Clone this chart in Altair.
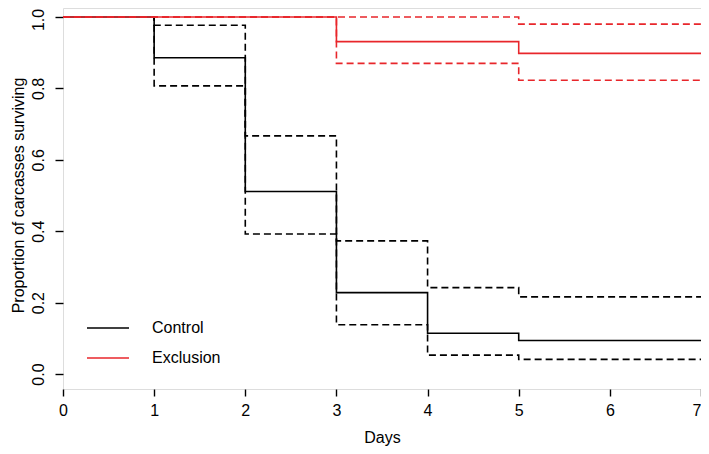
import altair as alt
import pandas as pd

# Kaplan-Meier estimates (step functions) with confidence bands
days_control = [0, 1, 2, 3, 4, 5, 7]
surv_control = [1.0, 0.886, 0.511, 0.228, 0.114, 0.094, 0.094]
upper_control = [1.0, 0.977, 0.667, 0.373, 0.242, 0.216, 0.216]
lower_control = [1.0, 0.807, 0.392, 0.138, 0.053, 0.041, 0.041]

days_excl = [0, 3, 5, 7]
surv_excl = [1.0, 0.931, 0.898, 0.898]
upper_excl = [1.0, 1.0, 0.980, 0.980]
lower_excl = [1.0, 0.870, 0.823, 0.823]

groups = ["Control", "Exclusion"]
colors = ["#000000", "#E8262B"]
x_ticks = [0, 1, 2, 3, 4, 5, 6, 7]
y_ticks = [0.0, 0.2, 0.4, 0.6, 0.8, 1.0]

rows = []
order = 0
for g, days, est, up, lo in [
    ("Control", days_control, surv_control, upper_control, lower_control),
    ("Exclusion", days_excl, surv_excl, upper_excl, lower_excl),
]:
    for kind, vals in [("lower", lo), ("upper", up), ("est", est)]:
        for d, v in zip(days, vals):
            rows.append({"day": d, "value": v, "group": g,
                         "kind": "est" if kind == "est" else "ci",
                         "series": f"{order:02d}-{g}-{kind}"})
        order += 1

df = pd.DataFrame(rows)

FONT = "Liberation Sans"
W = 638

chart = alt.Chart(df).mark_line(interpolate="step-after", strokeWidth=1.6).encode(
    x=alt.X("day:Q",
            scale=alt.Scale(domain=[0, 7], nice=False, zero=False),
            axis=alt.Axis(values=x_ticks, format="d", title="Days",
                          domain=False, grid=False, tickSize=7, tickWidth=1.4,
                          tickColor="black", labelFontSize=16, labelFont=FONT,
                          labelColor="black", labelPadding=6, labelFlush=False,
                          labelAlign={"condition": {"test": "datum.value === 7",
                                                    "value": "right"},
                                      "value": "center"},
                          titleFontSize=16, titleFont=FONT, titleFontWeight="normal",
                          titleColor="black", titleX=W / 2, titleY=53,
                          titleBaseline="alphabetic")),
    y=alt.Y("value:Q",
            scale=alt.Scale(domain=[-0.042, 1.0252], nice=False, zero=False),
            axis=alt.Axis(values=y_ticks, format=".1f",
                          title="Proportion of carcasses surviving",
                          domain=False, grid=False, tickSize=8, tickWidth=1.4,
                          tickColor="black", labelFontSize=16, labelFont=FONT,
                          labelColor="black", labelAngle=270, labelAlign="center",
                          labelBaseline="alphabetic", labelPadding=12,
                          labelOffset={"condition": {"test": "datum.value === 1",
                                                     "value": 2.5},
                                       "value": 0},
                          labelFlush=False,
                          titleFontSize=16, titleFont=FONT, titleFontWeight="normal",
                          titleColor="black", titleAngle=270, titleX=-45,
                          titleY=187, titleBaseline="middle", titleAlign="center")),
    color=alt.Color("group:N",
                    scale=alt.Scale(domain=groups, range=colors),
                    legend=alt.Legend(title=None, orient="none", legendX=23,
                                      legendY=298, symbolType="stroke",
                                      symbolSize=1764, symbolStrokeWidth=1.6,
                                      labelFontSize=16, labelFont=FONT,
                                      labelColor="black", labelOffset=22,
                                      rowPadding=-10, padding=0)),
    strokeDash=alt.StrokeDash("kind:N",
                              scale=alt.Scale(domain=["est", "ci"],
                                              range=[[1, 0], [7, 4]]),
                              legend=None),
    detail="series:N",
).properties(
    width=W,
    height=381,
    autosize=alt.AutoSizeParams(type="none"),
    padding={"left": 55, "top": 0, "right": 0, "bottom": 57},
).configure_view(
    stroke="black", strokeWidth=1.5
).configure(background="white")

chart.save("out.html", embed_options={"renderer": "svg", "actions": False})
